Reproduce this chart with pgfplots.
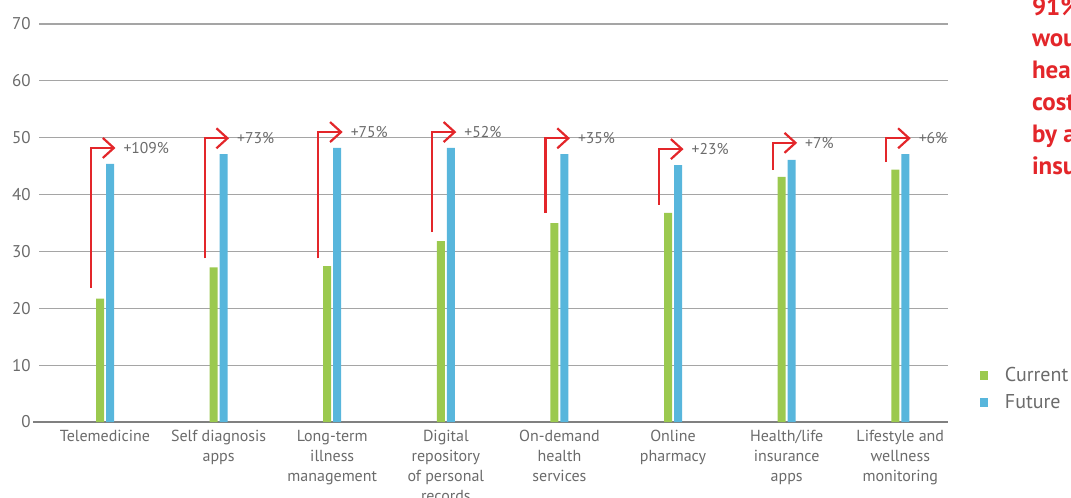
\documentclass[border=0pt]{standalone}
\usepackage{fontspec}
\setmainfont{PT Sans}
\usepackage{pgfplots}
\pgfplotsset{compat=1.18}
\usetikzlibrary{arrows.meta}

\definecolor{barGreen}{HTML}{9BC94F}
\definecolor{barBlue}{HTML}{58B6DC}
\definecolor{arrowRed}{HTML}{E3262A}
\definecolor{labelGray}{HTML}{6B6B6B}
\definecolor{gridGray}{HTML}{A5A5A5}
\definecolor{zeroGray}{HTML}{808080}

\pgfplotsset{
  growth/.style={sharp plot, draw=arrowRed, line width=1.1pt,
    -{Straight Barb[length=5.5pt,width=10pt,line width=1.1pt]}, forget plot},
}
\tikzset{
  growthlabel/.style={anchor=west, inner sep=0pt, xshift=3.5pt,
    font=\fontsize{7.8}{9}\selectfont, text=labelGray},
}

\begin{document}
\begin{tikzpicture}
\path[use as bounding box] (0,0) rectangle (535.5pt,249pt);
\begin{axis}[
  at={(19.5pt,38pt)}, anchor=south west,
  scale only axis, width=454.5pt, height=199pt,
  xmin=-0.581, xmax=7.42, ymin=0, ymax=70,
  ybar,
  axis line style={draw=none},
  major tick length=0pt,
  ymajorgrids, grid style={draw=gridGray, line width=0.6pt},
  ytick={0,10,...,70},
  xtick={0,...,7},
  xticklabels={Telemedicine, {Self diagnosis\\apps}, {Long-term\\illness\\management},
    {Digital\\repository\\of personal\\records}, {On-demand\\health\\services},
    {Online\\pharmacy}, {Health/life\\insurance\\apps}, {Lifestyle and\\wellness\\monitoring}},
  /pgf/number format/assume math mode=true,
  yticklabel style={anchor=east, inner sep=0pt, xshift=-4pt,
    font=\fontsize{8.5}{10}\selectfont, text=labelGray},
  xticklabel style={anchor=north, align=center, inner sep=0pt, yshift=-4pt,
    font=\fontsize{8}{10}\selectfont, text=labelGray},
  legend image code/.code={\fill[#1] (0pt,-2.2pt) rectangle (4.3pt,2.2pt);},
  legend style={draw=none, fill=none, at={(1.0345,0.1437)}, anchor=north west,
    inner sep=0pt, row sep=2.9pt, font=\fontsize{10}{11}\selectfont,
    text=labelGray, nodes={inner sep=1pt},
    /tikz/every odd column/.append style={column sep=7.3pt}},
  legend cell align=left,
  clip=false,
]
% baseline at zero
\draw[draw=zeroGray, line width=0.7pt] ([xshift=-3pt]axis cs:-0.581,0) -- (axis cs:7.42,0);

% current and future adoption
\addplot[fill=barGreen, draw=none, bar width=4pt, bar shift=-2.5pt]
  coordinates {(0,21.7) (1,27.2) (2,27.4) (3,31.8) (4,35.0) (5,36.8) (6,43.1) (7,44.4)};
\addplot[fill=barBlue, draw=none, bar width=4pt, bar shift=2.5pt]
  coordinates {(0,45.4) (1,47.1) (2,48.2) (3,48.2) (4,47.1) (5,45.2) (6,46.1) (7,47.1)};
\legend{Current, Future}

% growth arrows
\addplot[growth] coordinates {(-0.123,23.6) (-0.123,48.2) (0.092,48.2)} node[pos=1,growthlabel] {+109\%};
\addplot[growth] coordinates {(0.877,28.8) (0.877,49.9) (1.092,49.9)} node[pos=1,growthlabel] {+73\%};
\addplot[growth] coordinates {(1.877,28.8) (1.877,51.0) (2.092,51.0)} node[pos=1,growthlabel] {+75\%};
\addplot[growth] coordinates {(2.877,33.4) (2.877,51.0) (3.092,51.0)} node[pos=1,growthlabel] {+52\%};
\addplot[growth] coordinates {(3.877,36.8) (3.877,49.9) (4.092,49.9)} node[pos=1,growthlabel] {+35\%};
\addplot[growth] coordinates {(4.877,38.2) (4.877,48.0) (5.092,48.0)} node[pos=1,growthlabel] {+23\%};
\addplot[growth] coordinates {(5.877,44.3) (5.877,49.1) (6.092,49.1)} node[pos=1,growthlabel] {+7\%};
\addplot[growth] coordinates {(6.877,45.7) (6.877,49.9) (7.092,49.9)} node[pos=1,growthlabel] {+6\%};
\end{axis}

% side note
\begin{scope}[every node/.style={anchor=base west, inner sep=0pt, text=arrowRed,
    font=\fontsize{12.5}{16}\selectfont\bfseries}]
\node at (515.8pt,241.2pt) {91\% of consumers};
\node at (515.8pt,225.6pt) {would share};
\node at (515.8pt,209.6pt) {health data};
\node at (515.8pt,193.6pt) {costs covered};
\node at (515.8pt,177.6pt) {by an};
\node at (515.8pt,161.6pt) {insurer};
\end{scope}
\end{tikzpicture}
\end{document}
